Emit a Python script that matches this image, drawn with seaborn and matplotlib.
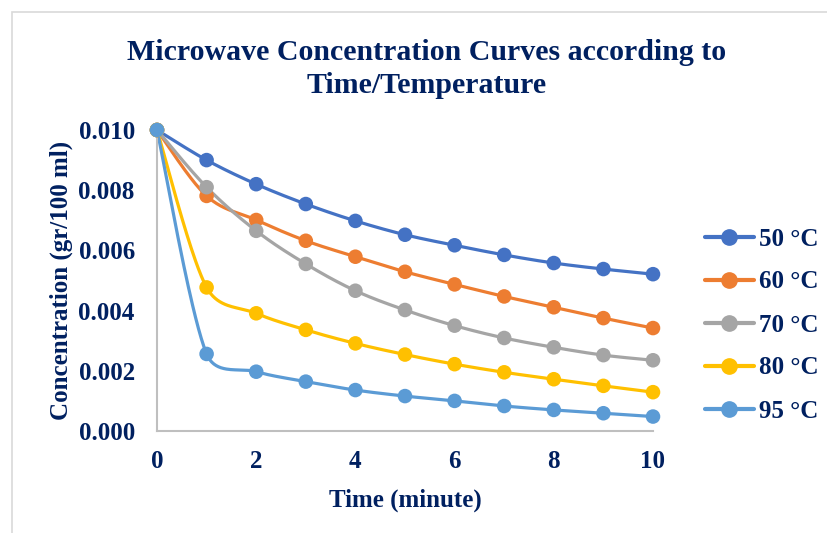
import numpy as np
import pandas as pd
import matplotlib
matplotlib.use("Agg")
import matplotlib.pyplot as plt
from matplotlib.lines import Line2D
from matplotlib.patches import Rectangle
import seaborn as sns

# data
time_min = [0, 1, 2, 3, 4, 5, 6, 7, 8, 9, 10]
c_50 = [0.0100, 0.0090, 0.0082, 0.00754, 0.00698, 0.00652, 0.00617, 0.00585, 0.00558, 0.00538, 0.00521]
c_60 = [0.0100, 0.00781, 0.00701, 0.00632, 0.00579, 0.00529, 0.00487, 0.00447, 0.00411, 0.00375, 0.00342]
c_70 = [0.0100, 0.00810, 0.00665, 0.00555, 0.00466, 0.00402, 0.00350, 0.00309, 0.00278, 0.00252, 0.00235]
c_80 = [0.0100, 0.00477, 0.00391, 0.00336, 0.00291, 0.00254, 0.00222, 0.00195, 0.00172, 0.00150, 0.00129]
c_95 = [0.0100, 0.00256, 0.00197, 0.00164, 0.00136, 0.00116, 0.00100, 0.00083, 0.00070, 0.00059, 0.00048]
labels = ["50 °C", "60 °C", "70 °C", "80 °C", "95 °C"]
colors = ["#4472C4", "#ED7D31", "#A5A5A5", "#FFC000", "#5B9BD5"]

series = [c_50, c_60, c_70, c_80, c_95]
df = pd.concat([pd.DataFrame({"Time": time_min, "Conc": s, "Temp": lab})
                for s, lab in zip(series, labels)], ignore_index=True)

NAVY = "#002060"
FONT = "Liberation Serif"


def smooth(x, y, n=40):
    # bezier smoothing similar to Excel's "smoothed line", done in screen-like units;
    # control arms are clamped to a share of their segment so short segments don't overshoot
    x = np.asarray(x, float) * 50.0
    y = np.asarray(y, float) * 30100.0
    pts = np.column_stack([x, y])
    m = len(pts)
    d = np.linalg.norm(np.diff(pts, axis=0), axis=1)
    tang = np.zeros_like(pts)
    for i in range(m):
        tang[i] = (pts[min(i + 1, m - 1)] - pts[max(i - 1, 0)]) / 6.0
    t = np.linspace(0, 1, n)[:, None]
    out = []
    for i in range(m - 1):
        p0, p3 = pts[i], pts[i + 1]
        arms = []
        for tg in (tang[i], tang[i + 1]):
            ln = np.linalg.norm(tg)
            arms.append(tg * min(1.0, 0.45 * d[i] / ln) if ln > 0 else tg)
        p1 = p0 + arms[0]
        p2 = p3 - arms[1]
        b = (1 - t) ** 3 * p0 + 3 * (1 - t) ** 2 * t * p1 + 3 * (1 - t) * t ** 2 * p2 + t ** 3 * p3
        out.append(b)
    out = np.vstack(out)
    return out[:, 0] / 50.0, out[:, 1] / 30100.0


sns.set_theme(style="white")
plt.rcParams["font.family"] = [FONT, "DejaVu Serif"]
plt.rcParams["font.weight"] = "bold"

fig = plt.figure(figsize=(8.28, 5.33), dpi=100)
ax = fig.add_axes([157 / 828, 1 - 431 / 533, (653 - 157) / 828, (431 - 130) / 533])

for lab, col in zip(labels, colors):
    sub = df[df["Temp"] == lab]
    sx, sy = smooth(sub["Time"], sub["Conc"])
    ax.plot(sx, sy, color=col, lw=2.3, clip_on=False, zorder=2)

sns.scatterplot(data=df, x="Time", y="Conc", hue="Temp", palette=colors,
                s=110, edgecolor="none", legend=False, ax=ax, clip_on=False, zorder=3)

ax.set_xlim(0, 10)
ax.set_ylim(0, 0.010)
ax.set_xticks(range(0, 11, 2))
ax.set_yticks(np.arange(0, 0.0101, 0.002))
ax.yaxis.set_major_formatter(matplotlib.ticker.FormatStrFormatter("%.3f"))
ax.tick_params(length=0, labelsize=18, labelcolor=NAVY)
ax.tick_params(axis="y", pad=16)
ax.tick_params(axis="x", pad=14)
for lbl in ax.get_xticklabels() + ax.get_yticklabels():
    lbl.set_fontweight("bold")

for side in ["top", "right"]:
    ax.spines[side].set_visible(False)
for side in ["left", "bottom"]:
    ax.spines[side].set_color("#BFBFBF")
    ax.spines[side].set_linewidth(1.5)

ax.set_xlabel("Time (minute)", fontsize=18, fontweight="bold", color=NAVY)
ax.set_ylabel("Concentration (gr/100 ml)", fontsize=18, fontweight="bold", color=NAVY)
ax.xaxis.set_label_coords(0.5, -0.19)
ax.yaxis.set_label_coords(-0.17, 0.5)

fig.text(427 / 828, 1 - 69 / 533, "Microwave Concentration Curves according to\nTime/Temperature",
         ha="center", va="center", fontsize=21.5, fontweight="bold", color=NAVY,
         linespacing=1.33)

handles = [Line2D([0], [0], color=c, lw=3, marker="o", markersize=11) for c in colors]
leg = fig.legend(handles, labels, loc="center left", bbox_to_anchor=(695 / 828, 1 - 325 / 533),
                 frameon=False, fontsize=18, handlelength=1.95, handletextpad=0.2,
                 labelspacing=0.8, borderaxespad=0)
for t in leg.get_texts():
    t.set_color(NAVY)
    t.set_fontweight("bold")

fig.patches.append(Rectangle((12 / 828, -0.1), 2, 1 - 12 / 533 + 0.1, transform=fig.transFigure,
                             fill=False, edgecolor="#D9D9D9", lw=1.2))

fig.savefig("out.png", dpi=100)
